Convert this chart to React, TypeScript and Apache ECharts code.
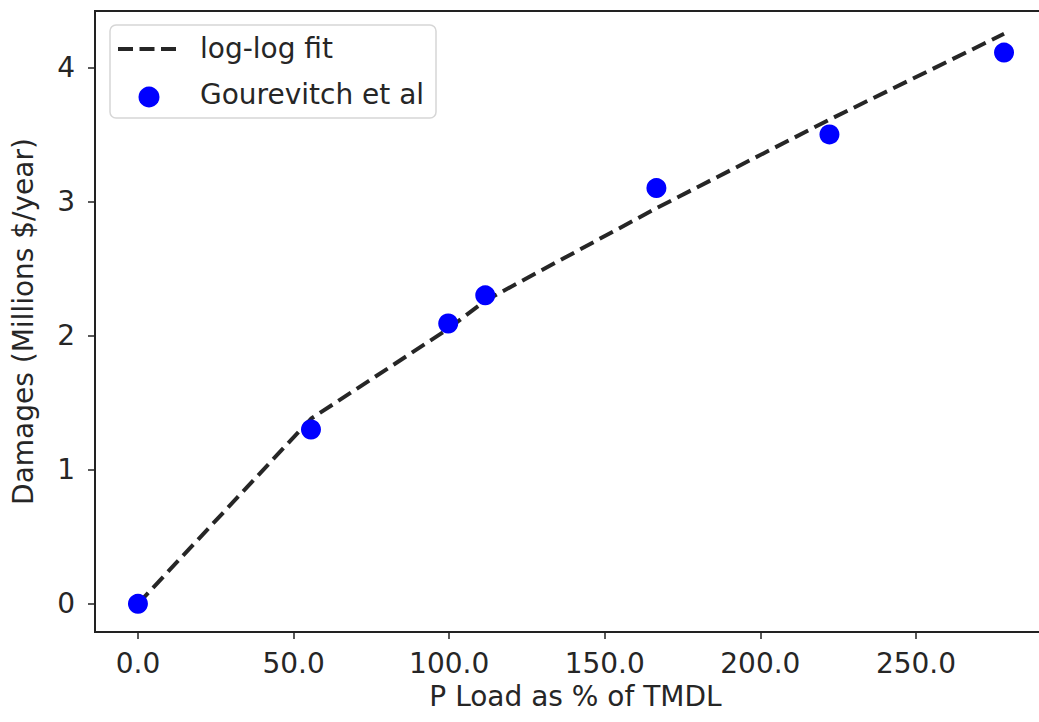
import React, { useEffect, useRef } from "react";
import * as echarts from "echarts";

// P load as % of TMDL (x) and damages in millions $/year (y)
const loadPct: number[] = [0, 55.6, 99.7, 111.6, 166.6, 222.2, 278.3];
const damages: number[] = [0, 1.3, 2.09, 2.3, 3.1, 3.5, 4.11];
// log-log fit line evaluated at the same loads
const fitValues: number[] = [0, 1.38, 2.05, 2.26, 2.95, 3.61, 4.25];
const xTicks: number[] = [0, 50, 100, 150, 200, 250];
const yTicks: number[] = [0, 1, 2, 3, 4];
const lineName = "log-log fit";
const scatterName = "Gourevitch et al";

const FONT = "DejaVu Sans";
const TXT = "#262626";
const W = 1080;

export default function App() {
  const ref = useRef<HTMLDivElement>(null);
  useEffect(() => {
    if (!ref.current) return;
    const chart = echarts.init(ref.current, null, { renderer: "svg" });
    chart.setOption({
      animation: false,
      backgroundColor: "#ffffff",
      textStyle: { fontFamily: FONT },
      grid: {
        left: 95,
        top: 11,
        right: W - 1056,
        bottom: 90,
        containLabel: false,
        outerBoundsMode: "none",
        show: true,
        borderColor: "#222",
        borderWidth: 2,
      },
      xAxis: {
        type: "value",
        min: -13.8,
        max: 295,
        name: "P Load as % of TMDL",
        nameLocation: "middle",
        nameGap: 50,
        nameTextStyle: { fontFamily: FONT, fontSize: 28, color: TXT },
        axisLine: { show: false, onZero: false },
        splitLine: { show: false },
        axisTick: {
          show: true,
          length: 7,
          lineStyle: { color: "#222", width: 1.5 },
          customValues: xTicks,
        },
        axisLabel: {
          fontFamily: FONT,
          fontSize: 28,
          color: TXT,
          margin: 17,
          customValues: xTicks,
          formatter: (v: number) => v.toFixed(1),
        },
      },
      yAxis: {
        type: "value",
        min: -0.21,
        max: 4.42,
        name: "Damages (Millions $/year)",
        nameLocation: "middle",
        nameGap: 58,
        nameTextStyle: { fontFamily: FONT, fontSize: 28, color: TXT },
        axisLine: { show: false, onZero: false },
        splitLine: { show: false },
        axisTick: {
          show: true,
          length: 7,
          lineStyle: { color: "#222", width: 1.5 },
          customValues: yTicks,
        },
        axisLabel: {
          fontFamily: FONT,
          fontSize: 28,
          color: TXT,
          margin: 20,
          customValues: yTicks,
          formatter: (v: number) => String(Math.round(v)),
        },
      },
      series: [
        {
          name: lineName,
          type: "line",
          data: loadPct.map((x, i) => [x, fitValues[i]]),
          showSymbol: false,
          symbol: "none",
          lineStyle: { color: "#262626", width: 4, type: [15, 7] },
          z: 2,
        },
        {
          name: scatterName,
          type: "scatter",
          data: loadPct.map((x, i) => [x, damages[i]]),
          symbol: "circle",
          symbolSize: 20,
          itemStyle: { color: "#0000ff", opacity: 1 },
          z: 3,
        },
      ],
      graphic: [
        {
          type: "rect",
          shape: { x: 110, y: 25, width: 326, height: 93, r: 6 },
          style: { fill: "rgba(255,255,255,0.8)", stroke: "#d6d6d6", lineWidth: 1.5 },
          z: 10,
        },
        {
          type: "line",
          shape: { x1: 118, y1: 49, x2: 176, y2: 49 },
          style: { stroke: "#262626", lineWidth: 4, lineDash: [15, 6.5] },
          z: 11,
        },
        {
          type: "text",
          x: 200,
          y: 48,
          style: {
            text: lineName,
            fontFamily: FONT,
            fontSize: 28,
            fill: TXT,
            verticalAlign: "middle",
            align: "left",
          },
          z: 11,
        },
        {
          type: "circle",
          shape: { cx: 149, cy: 97, r: 10.5 },
          style: { fill: "#0000ff" },
          z: 11,
        },
        {
          type: "text",
          x: 200,
          y: 94,
          style: {
            text: scatterName,
            fontFamily: FONT,
            fontSize: 28,
            fill: TXT,
            verticalAlign: "middle",
            align: "left",
          },
          z: 11,
        },
      ],
    });
    return () => chart.dispose();
  }, []);
  return (
    <div
      ref={ref}
      style={{ position: "fixed", left: 0, top: 0, width: W, height: 722, background: "#fff" }}
    />
  );
}
